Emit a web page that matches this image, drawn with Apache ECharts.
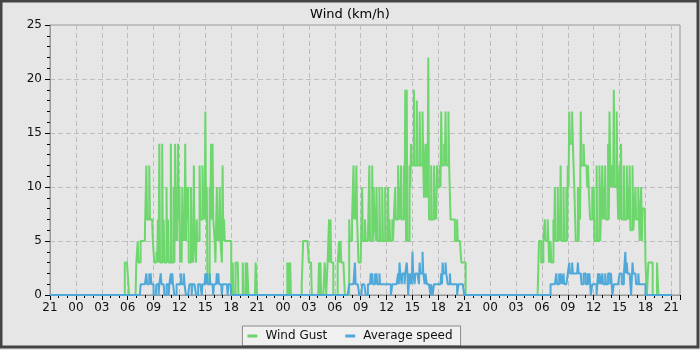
<!DOCTYPE html>
<html><head><meta charset="utf-8">
<script src="https://cdn.jsdelivr.net/npm/echarts@6/dist/echarts.min.js"></script>
<style>html,body{margin:0;padding:0;background:#e6e6e6}#c{width:700px;height:350px}</style>
</head><body><div id="c"></div><script>
const chartTitle = 'Wind (km/h)';
const seriesNames = ['Wind Gust', 'Average speed'];
const tickLabels = ['21','00','03','06','09','12','15','18','21','00','03','06','09','12','15','18','21','00','03','06','09','12','15','18','21'];
// hours counted from 21:00 of the first day; one high and one low reading per 10-minute slot
const dayStartHours = [8 + 40 / 60, 27, 56];
const slotHours = 1 / 6;
const axisEndHours = 73;
const dataEndHours = 72;

// ---- day 1 ----
const gustDay1High = [3,3,2,0, 0,0,0,0, 3,5,3,5,5,5, 6,12,7,12,7,7, 5,3,4,7,14,3, 14,7,3,10,7,3,
  14,3,10,14,10,14, 10,5,10,7,14,10, 10,3,10,5,12,5, 7,5,12,7,12,10, 17,10,1,10,14,14,
  7,3,10,7,10,5, 12,7,5,5,5,5, 0,3,0,3,3,0, 0,0,3,0,3,3, 0,0,0,0,0,3, 0];
const gustDay1Low = [3,3,2,0, 0,0,0,0, 3,3,3,5,5,5, 6,7,7,7,7,5, 3,3,3,3,3,3, 3,3,3,3,3,3,
  3,3,3,5,5,7, 3,3,5,5,5,7, 3,3,3,3,5,3, 5,5,7,7,7,7, 7,1,1,7,7,7,
  5,3,5,5,5,3, 5,5,5,5,5,5, 0,0,0,3,3,0, 0,0,0,0,0,3, 0,0,0,0,0,3, 0];
const avgDay1High = [0,0,0,0,0,0,0,0,0,0,0, 1,1,1,1,2,1,2,2,1, 0,0,1,1,1,2,1,1,0,1,1,1,
  2,2,1,0,1,1,1,2,1,2,1,0, 0,1,1,1,1,1,0,1,1,1,1,1, 2,2,1,2,1,1,1,1,2,2,1,1, 1,1,1,1,1,1,
  0,0,0,0,0,0,0,0,0,0,0,0,0,0,0,0,0,0,0];
const avgDay1Low = [0,0,0,0,0,0,0,0,0,0,0, 1,1,1,1,1,1,1,1,1, 0,0,1,0,1,1,1,0,0,1,0,1,
  1,1,0,0,1,1,1,1,1,1,0,0, 0,1,0,1,1,0,0,1,1,0,1,1, 1,1,1,1,1,0,1,1,1,1,1,0, 1,1,1,0,1,1,
  0,0,0,0,0,0,0,0,0,0,0,0,0,0,0,0,0,0,0];

// ---- day 2 ----
const gustDay2High = [0,0,0, 3,3,3, 0,0,0,0,0,0,0, 1,5,5,5,5,3,3, 0,0,0,0,0, 3,3, 0,0, 3, 0,
  3,7,7,3, 0,0,0, 3,5,5,3,3, 0,0,0, 7,5,7,12,9,12,7,3,3, 10,5,7,5,5,
  12,5,12,10,7,10,5,10, 5,10,5,10,5,10,7, 5,7,7,10,7, 12,10,12,7,12,
  19,19,5,12,14,12, 19,12,18,12,17,12,17,9,14, 14,22,7, 12,7,12,8,12,10,12,
  17,12,14,17,12,17,12, 7,7,7,5,7,5,5, 3,3,3,0];
const gustDay2Low = [0,0,0, 0,0,0, 0,0,0,0,0,0,0, 1,5,5,5,5,3,3, 0,0,0,0,0, 0,0, 0,0, 3, 0,
  3,3,3,3, 0,0,0, 3,3,3,3,3, 0,0,0, 5,5,7,7,7,7,3,3,3, 5,5,5,5,5,
  5,5,5,7,5,5,5,5, 5,5,5,5,5,5,5, 5,5,7,7,7, 7,7,7,7,7,
  5,5,5,10,12,12, 12,12,12,12,12,12,12,9,9, 9,7,7, 7,7,7,7,10,10,10,
  12,12,12,12,12,12,7, 7,7,5,5,5,5,5, 3,3,3,0];
const avgDay2High = [0,0,0,0,0,0,0,0,0,0, 0,0,0,0,0,0,0,0,0,0, 0,0,0,0,0,0,0,0,0,0,
  0,0,0,0,0,0,0,0,0,0, 0,0,0,0,0,0,
  1,1,1,1,3,1,1, 0,0, 1,1,1,0,1, 1,2,2,1,2,2,1,2, 1,1,1,1,1,1,1,0, 1,1,1,1,
  2,3,2,2,2,2,3,0,2, 2,4,2,2, 2,2,3,2,4,2,2, 1,1,1,1,0, 1,1,1,1, 1,2,3,2,3,
  2,1,2,1, 1,1,1,0,1,1, 1,1,0,0];
const avgDay2Low = [0,0,0,0,0,0,0,0,0,0, 0,0,0,0,0,0,0,0,0,0, 0,0,0,0,0,0,0,0,0,0,
  0,0,0,0,0,0,0,0,0,0, 0,0,0,0,0,0,
  1,1,1,1,1,1,1, 0,0, 1,1,0,0,1, 1,1,1,1,1,1,1,1, 1,1,1,1,1,1,1,0, 1,1,1,1,
  1,2,1,2,1,2,2,0,1, 1,2,1,2, 2,1,2,2,2,1,2, 1,1,0,1,0, 1,1,1,1, 1,1,2,2,2,
  1,1,1,1, 1,1,1,0,1,1, 1,1,0,0];

// ---- day 3 ----
const gustDay3High = [0,0,0,0, 5,5,3,5, 7,5,7, 3,5,3, 7,10,5,10,7, 12,5, 10,5,10, 12,17,14,17, 12,
  10,5,10,10, 17,12, 14,12, 12,12, 10,7,10, 10,5, 12,5,12, 7,12,10,12,7, 14,17, 10,12,
  19,10,17, 7,12, 14,7, 12,7,12, 10, 12,6,12,7, 10,7,10, 5,10,8,8, 3,0,3,3,3,0, 0,0, 3,
  0,0,0,0,0,0,0,0,0,0];
const gustDay3Low = [0,0,0,0, 5,3,3,5, 5,5,5, 3,3,3, 5,5,5,5,5, 5,5, 5,5,5, 10,14,14,14, 10,
  5,5,5,7, 12,12, 12,12, 10,10, 7,7,7, 5,5, 5,5,5, 7,7,7,7,7, 7,12, 10,10,
  10,10,10, 7,7, 7,7, 7,7,7, 7, 6,6,6,7, 7,7,7, 5,5,8,8, 3,0,3,3,3,0, 0,0, 3,
  0,0,0,0,0,0,0,0,0,0];
const avgDay3High = [0,0,0,0,0,0,0,0,0,0,0,0, 1,1,1,1, 2,1,2,2, 1,2,1,1, 2,3,2,3,2, 2, 2,3,2,
  2,1,2,2,1,2, 2,0, 1,1,1,0, 2,2,1,2, 1,2,1, 2,2,2,0, 1,1,1,1, 2,2,1, 2,4, 3,2, 2,0,
  3,2,2, 1,2,1,1, 1,1, 0,0,0,0,0,0,0,0,0,0,0,0,0,0,0,0,0,0,0];
const avgDay3Low = [0,0,0,0,0,0,0,0,0,0,0,0, 1,1,1,1, 1,1,1,2, 1,1,1,1, 2,2,2,2,2, 2, 2,2,2,
  1,1,2,1,1,1, 1,0, 1,1,1,0, 1,2,1,1, 1,1,1, 2,1,2,0, 1,1,1,1, 2,1,1, 2,2, 2,2, 2,0,
  2,2,1, 1,1,1,1, 1,1, 0,0,0,0,0,0,0,0,0,0,0,0,0,0,0,0,0,0,0];

function buildSeries(highs, lows) {
  const pts = [[0, 0]];
  highs.forEach((hi, d) => {
    hi.forEach((v, i) => {
      const t = dayStartHours[d] + i * slotHours;
      pts.push([t, v]);
      pts.push([t + slotHours / 2, lows[d][i]]);
    });
  });
  pts.push([dataEndHours, 0]);
  return pts;
}

const gustData = buildSeries([gustDay1High, gustDay2High, gustDay3High], [gustDay1Low, gustDay2Low, gustDay3Low]);
const avgData = buildSeries([avgDay1High, avgDay2High, avgDay3High], [avgDay1Low, avgDay2Low, avgDay3Low]);

const font = 'DejaVu Sans';
const chart = echarts.init(document.getElementById('c'), null, {renderer: 'canvas'});
chart.setOption({
  backgroundColor: '#e6e6e6',
  animation: false,
  title: {text: chartTitle, left: 'center', top: 3,
    textStyle: {fontFamily: font, fontSize: 13, fontWeight: 'normal', color: '#000'}},
  legend: {
    data: seriesNames, left: 'center', top: 326, padding: [4, 8, 4, 5], itemGap: 18,
    backgroundColor: '#f0f0f0', borderColor: '#8a8a8a', borderWidth: 1, borderRadius: 0,
    icon: 'rect', itemWidth: 10, itemHeight: 3,
    textStyle: {fontFamily: font, fontSize: 12, color: '#111', padding: [0, 0, 0, 3]}
  },
  grid: {left: 50, right: 20, top: 25, bottom: 55, show: true, borderColor: '#999', borderWidth: 1},
  xAxis: [{
    type: 'value', min: 0, max: axisEndHours, interval: 3,
    axisLine: {show: true, lineStyle: {color: '#999'}},
    axisTick: {show: true, length: 5, lineStyle: {color: '#000'}},
    axisLabel: {fontFamily: font, fontSize: 12, color: '#111', margin: 7,
      formatter: v => (v % 3 === 0 ? tickLabels[v / 3] : '')},
    splitLine: {show: true, lineStyle: {color: '#bdbdbd', type: [5, 3]}}
  }, {
    type: 'value', min: 0, max: axisEndHours, interval: 1, position: 'bottom',
    axisLine: {show: false}, axisLabel: {show: false}, splitLine: {show: false},
    axisTick: {show: true, length: 3, lineStyle: {color: '#000'}}
  }],
  yAxis: {
    type: 'value', min: 0, max: 25, interval: 5,
    axisLine: {show: true, lineStyle: {color: '#999'}},
    axisTick: {show: true, length: 5, lineStyle: {color: '#000'}},
    minorTick: {show: true, splitNumber: 5, length: 3, lineStyle: {color: '#000'}},
    axisLabel: {fontFamily: font, fontSize: 12, color: '#111', margin: 8},
    splitLine: {show: true, lineStyle: {color: '#bdbdbd', type: [5, 3]}}
  },
  series: [{
    name: seriesNames[0], type: 'line', step: 'end', data: gustData, showSymbol: false,
    xAxisIndex: 0, color: '#6dd66d', lineStyle: {width: 2, color: '#6dd66d'}
  }, {
    name: seriesNames[1], type: 'line', step: 'end', data: avgData, showSymbol: false,
    xAxisIndex: 0, color: '#4ea9da', lineStyle: {width: 2, color: '#4ea9da'}
  }],
  graphic: [{type: 'rect', silent: true, z: 100,
    shape: {x: 1, y: 1, width: 697, height: 346},
    style: {fill: null, stroke: '#444', lineWidth: 3}}]
});
</script></body></html>
